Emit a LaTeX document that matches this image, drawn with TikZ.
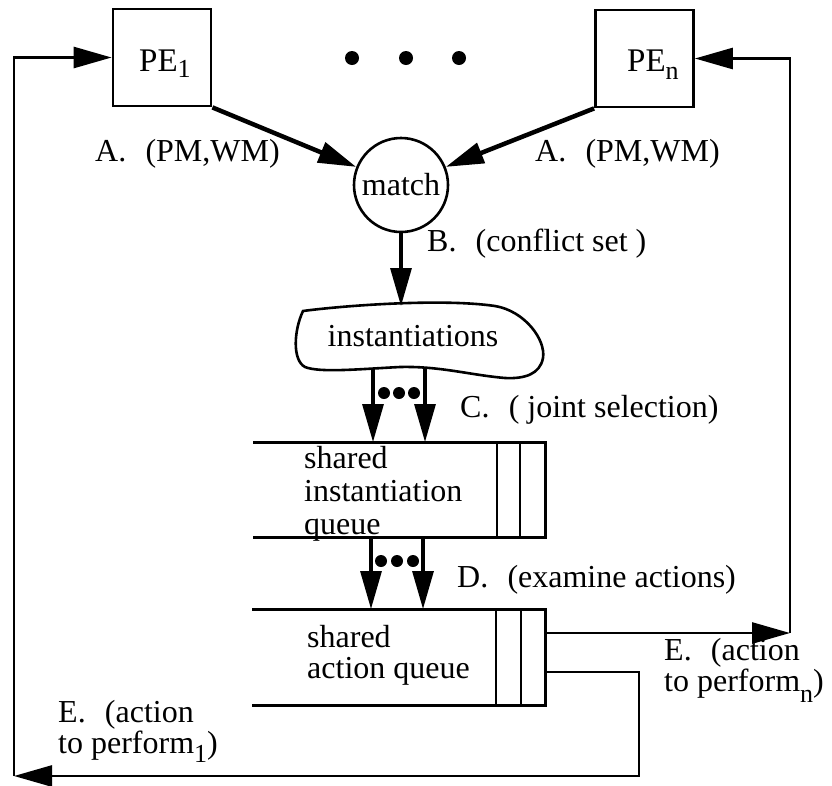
\documentclass[tikz,border=0pt]{standalone}
\usepackage{fontspec}
\setmainfont{Liberation Serif}
\usetikzlibrary{arrows.meta}

% lowered, smaller index after a word
\newcommand\lowsub[2]{\raisebox{-#1}{\fontsize{26}{26}\selectfont #2}}

\tikzset{
  lbl/.style={font=\fontsize{32}{32}\selectfont, inner sep=0pt, anchor=base west},
  multilbl/.style={lbl, align=left},
  pebox/.style={draw, line width=2.8pt, minimum width=98pt, minimum height=97pt, inner sep=0pt},
  tip/.style={-{Triangle[length=38pt,width=21pt]}},
  thick arrow/.style={tip, line width=4.5pt},
  flow arrow/.style={tip, line width=3.2pt},
  feed/.style={tip, line width=2.8pt},
  qline/.style={line width=3pt},
}

\begin{document}
\begin{tikzpicture}[x=1pt,y=-1pt]
\useasboundingbox (0,0) rectangle (832,785);

% processing elements
\node[pebox] (pe1) at (162,57.5) {};
\node[pebox] (pen) at (644.5,58.5) {};
\node[lbl] (pe1t) at (139,71) {\fontsize{33}{33}\selectfont PE\lowsub{6pt}{1}};
\node[lbl] (pent) at (627,71) {\fontsize{33}{33}\selectfont PE\lowsub{8pt}{n}};

% ellipsis between the processing elements
\fill (352,58) circle[radius=7pt];
\fill (406,58) circle[radius=7pt];
\fill (459,58) circle[radius=7pt];

% match
\node[draw, circle, line width=2.6pt, minimum size=94pt, inner sep=0pt,
      font=\fontsize{32}{32}\selectfont] (match) at (401,185) {match};

\draw[thick arrow] (pe1.south east) -- (match.158);
\draw[thick arrow] (pen.south west) -- (match.22);

\node[lbl] (la1) at (95,161) {A.\hspace{0.6em}(PM,WM)};
\node[lbl] (la2) at (535,161) {A.\hspace{0.6em}(PM,WM)};

% instantiations cloud
\draw[line width=2.6pt] (303,311) .. controls (340,306) and (440,298) .. (495,306)
  .. controls (525,311) and (546,340) .. (543,358)
  .. controls (540,374) and (525,379) .. (505,378)
  .. controls (470,375) and (440,366) .. (400,367)
  .. controls (360,369) and (320,373) .. (305,367)
  .. controls (292,360) and (294,330) .. (303,311) -- cycle;
\node[lbl, anchor=base] (inst) at (413,346) {instantiations};
\coordinate (cloudtop) at (401,306);

\draw[flow arrow] (match.south) -- (cloudtop);
\node[lbl] (lb) at (427,251) {B.\hspace{0.6em}(conflict set )};

% shared instantiation queue
\draw[qline] (253,442) -- (545,442) -- (545,537) -- (253,537);
\draw[line width=2.6pt] (497,442) -- (497,537) (520,442) -- (520,537);
\node[multilbl, font=\fontsize{32}{33}\selectfont] (q1t) at (304,534) {shared\\instantiation\\queue};

\coordinate (c1a) at (373,369);
\coordinate (c1b) at (425,368);
\coordinate (q1a) at (373,442);
\coordinate (q1b) at (425,442);
\draw[flow arrow] (c1a) -- (q1a);
\draw[flow arrow] (c1b) -- (q1b);
\fill (384,393) circle[radius=6pt] (399,393) circle[radius=6pt] (414,393) circle[radius=6pt];
\node[lbl] (lc) at (460,417) {C.\hspace{0.6em}( joint selection)};

% shared action queue
\draw[qline] (252,609) -- (545,609) -- (545,705) -- (252,705);
\draw[line width=2.6pt] (496,609) -- (496,705) (521,609) -- (521,705);
\node[multilbl, font=\fontsize{32}{31}\selectfont] (q2t) at (307,678) {shared\\action queue};

\coordinate (d1a) at (371,537);
\coordinate (d1b) at (423,537);
\coordinate (q2a) at (371,609);
\coordinate (q2b) at (423,609);
\draw[flow arrow] (d1a) -- (q2a);
\draw[flow arrow] (d1b) -- (q2b);
\fill (381,561) circle[radius=6pt] (397,561) circle[radius=6pt] (413,561) circle[radius=6pt];
\node[lbl] (ld) at (457,587) {D.\hspace{0.6em}(examine actions)};

% actions back to the processing elements
\coordinate (outn) at (545,633);
\coordinate (rturn) at (790,633);
\draw[feed] (outn) -- (rturn);
\draw[feed] (rturn) |- (pen.east);

\coordinate (out1) at (545,672);
\coordinate (bturn) at (639,776);
\coordinate (lturn) at (14,776);
\draw[feed] (out1) -| (bturn) -- (lturn);
\draw[feed] (lturn) |- (pe1.west);

\node[multilbl, font=\fontsize{32}{28}\selectfont] (len) at (664,691) {E.\hspace{0.6em}(action\\to perform\lowsub{11pt}{n})};
\node[multilbl, font=\fontsize{32}{31}\selectfont] (le1) at (58,753) {E.\hspace{0.6em}(action\\to perform\lowsub{9pt}{1})};
\end{tikzpicture}
\end{document}
